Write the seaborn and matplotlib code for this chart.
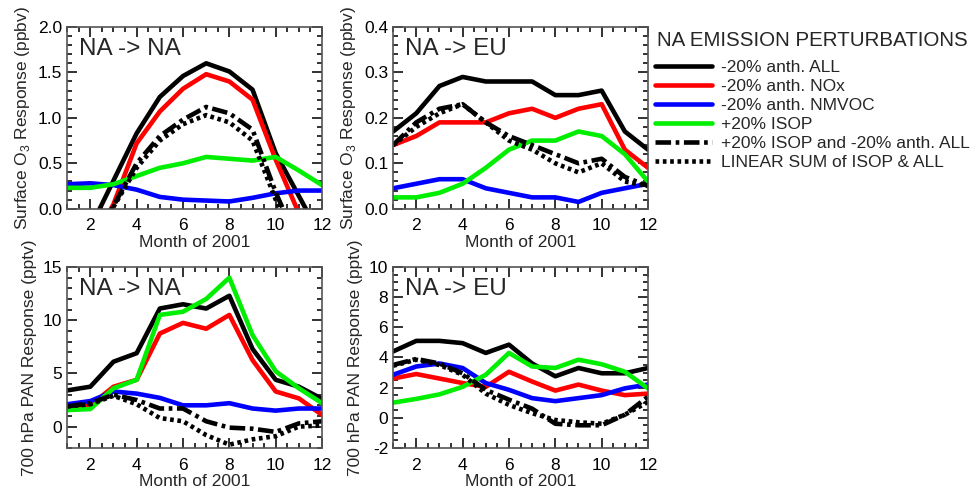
import numpy as np
import pandas as pd
import seaborn as sns
import matplotlib.pyplot as plt
from matplotlib.ticker import MultipleLocator

months = list(range(1, 13))

series_names = ['-20% anth. ALL', '-20% anth. NOx', '-20% anth. NMVOC',
                '+20% ISOP', '+20% ISOP and -20% anth. ALL',
                'LINEAR SUM of ISOP & ALL']

# surface O3, NA -> NA (ppbv)
o3_na_all = [-0.45, -0.21, 0.31, 0.83, 1.23, 1.46, 1.60, 1.51, 1.31, 0.61, 0.14, -0.33]
o3_na_nox = [-0.6, -0.4, 0.05, 0.72, 1.07, 1.32, 1.48, 1.40, 1.20, 0.54, -0.05, -0.5]
o3_na_voc = [0.27, 0.28, 0.26, 0.21, 0.13, 0.10, 0.09, 0.08, 0.12, 0.17, 0.20, 0.20]
o3_na_isop = [0.23, 0.23, 0.27, 0.36, 0.45, 0.50, 0.57, 0.55, 0.53, 0.57, 0.42, 0.26]
o3_na_both = [-0.7, -0.45, 0.03, 0.50, 0.80, 0.98, 1.12, 1.05, 0.87, 0.18, -0.4, -0.7]
o3_na_sum = [-0.7, -0.45, 0.02, 0.45, 0.75, 0.93, 1.03, 0.95, 0.75, 0.10, -0.5, -0.8]

# surface O3, NA -> EU (ppbv)
o3_eu_all = [0.17, 0.21, 0.27, 0.29, 0.28, 0.28, 0.28, 0.25, 0.25, 0.26, 0.17, 0.13]
o3_eu_nox = [0.14, 0.16, 0.19, 0.19, 0.19, 0.21, 0.22, 0.20, 0.22, 0.23, 0.13, 0.09]
o3_eu_voc = [0.045, 0.055, 0.065, 0.065, 0.045, 0.035, 0.025, 0.025, 0.015, 0.035, 0.045, 0.055]
o3_eu_isop = [0.025, 0.025, 0.035, 0.055, 0.09, 0.13, 0.15, 0.15, 0.17, 0.16, 0.12, 0.06]
o3_eu_both = [0.14, 0.19, 0.22, 0.23, 0.19, 0.16, 0.14, 0.12, 0.10, 0.11, 0.07, 0.05]
o3_eu_sum = [0.14, 0.18, 0.21, 0.23, 0.19, 0.15, 0.13, 0.10, 0.08, 0.10, 0.06, 0.05]

# 700 hPa PAN, NA -> NA (pptv)
pan_na_all = [3.4, 3.75, 6.1, 6.9, 11.1, 11.5, 11.1, 12.3, 7.3, 4.4, 3.75, 2.6]
pan_na_nox = [1.9, 2.0, 3.75, 4.4, 8.75, 9.75, 9.2, 10.5, 6.25, 3.3, 2.65, 1.1]
pan_na_voc = [2.1, 2.4, 3.3, 3.1, 2.7, 2.0, 2.0, 2.2, 1.7, 1.5, 1.7, 1.7]
pan_na_isop = [1.55, 1.65, 3.6, 4.4, 10.5, 10.8, 12.0, 14.0, 8.6, 5.2, 3.6, 2.2]
pan_na_both = [1.9, 2.2, 3.0, 2.5, 1.7, 1.7, 0.5, -0.1, -0.2, -0.5, 0.3, 0.5]
pan_na_sum = [1.9, 2.1, 2.9, 2.1, 0.8, 0.5, -0.8, -1.7, -1.2, -0.9, 0.0, 0.1]

# 700 hPa PAN, NA -> EU (pptv)
pan_eu_all = [4.4, 5.1, 5.1, 4.95, 4.3, 4.85, 3.6, 2.75, 3.3, 2.95, 2.95, 3.3]
pan_eu_nox = [2.6, 2.9, 2.6, 2.3, 2.05, 3.05, 2.4, 1.8, 2.2, 1.8, 1.5, 1.6]
pan_eu_voc = [2.85, 3.4, 3.6, 3.3, 2.3, 1.85, 1.3, 1.1, 1.3, 1.5, 1.95, 2.2]
pan_eu_isop = [1.0, 1.25, 1.55, 2.05, 2.85, 4.3, 3.4, 3.3, 3.85, 3.55, 3.05, 1.95]
pan_eu_both = [3.5, 3.9, 3.6, 2.95, 1.85, 1.2, 0.6, -0.4, -0.5, -0.5, 0.2, 1.4]
pan_eu_sum = [3.45, 3.85, 3.5, 2.85, 1.6, 0.85, 0.3, -0.15, -0.3, -0.4, 0.2, 1.05]

panels = [
    ('NA -> NA', 'Surface O$_3$ Response (ppbv)', (0, 2.0), 0.5, 0.1,
     [o3_na_all, o3_na_nox, o3_na_voc, o3_na_isop, o3_na_both, o3_na_sum], '%.1f'),
    ('NA -> EU', 'Surface O$_3$ Response (ppbv)', (0, 0.4), 0.1, 0.02,
     [o3_eu_all, o3_eu_nox, o3_eu_voc, o3_eu_isop, o3_eu_both, o3_eu_sum], '%.1f'),
    ('NA -> NA', '700 hPa PAN Response (pptv)', (-2, 15), 5, 1,
     [pan_na_all, pan_na_nox, pan_na_voc, pan_na_isop, pan_na_both, pan_na_sum], '%d'),
    ('NA -> EU', '700 hPa PAN Response (pptv)', (-2, 10), 2, 0.5,
     [pan_eu_all, pan_eu_nox, pan_eu_voc, pan_eu_isop, pan_eu_both, pan_eu_sum], '%d'),
]

palette = dict(zip(series_names, ['black', '#ff0000', '#0000ff', '#00ee00', 'black', 'black']))
dashes = dict(zip(series_names, ['', '', '', '', (3.4, 1.0, 0.8, 1.0), (0.8, 0.8)]))

sns.set_style('ticks')
plt.rcParams['font.family'] = ['Liberation Sans', 'DejaVu Sans']
plt.rcParams['mathtext.fontset'] = 'custom'
plt.rcParams['mathtext.rm'] = 'Liberation Sans'
plt.rcParams['xtick.direction'] = 'in'
plt.rcParams['ytick.direction'] = 'in'
plt.rcParams['xtick.top'] = True
plt.rcParams['ytick.right'] = True
plt.rcParams['xtick.minor.visible'] = True
plt.rcParams['ytick.minor.visible'] = True

fig = plt.figure(figsize=(9.73, 4.9), dpi=100)
boxes = [[0.069, 0.574, 0.262, 0.371], [0.404, 0.574, 0.262, 0.371],
         [0.069, 0.086, 0.262, 0.369], [0.404, 0.086, 0.262, 0.369]]

for box, (title, ylab, ylim, major, minor, vals, fmt) in zip(boxes, panels):
    ax = fig.add_axes(box)
    df = pd.DataFrame({
        'month': months * len(series_names),
        'value': np.concatenate(vals),
        'series': np.repeat(series_names, len(months)),
    })
    sns.lineplot(data=df, x='month', y='value', hue='series', style='series',
                 palette=palette, dashes=dashes, linewidth=3.3, legend=False, ax=ax)
    ax.set_xlim(1, 12)
    ax.set_ylim(*ylim)
    ax.xaxis.set_major_locator(MultipleLocator(2))
    ax.xaxis.set_minor_locator(MultipleLocator(0.5))
    ax.yaxis.set_major_locator(MultipleLocator(major))
    ax.yaxis.set_minor_locator(MultipleLocator(minor))
    ax.yaxis.set_major_formatter(plt.FormatStrFormatter(fmt))
    ax.tick_params(which='both', direction='in', top=True, right=True, color='#222222',
                   labelcolor='black', labelsize=12.5, width=1.3)
    ax.tick_params(which='major', length=7)
    ax.tick_params(which='minor', length=3.5)
    ax.tick_params(axis='x', which='major', pad=7)
    for s in ax.spines.values():
        s.set_color('#555555')
        s.set_linewidth(1.2)
    ax.set_xlabel('Month of 2001', fontsize=12.5, labelpad=1)
    ax.set_ylabel(ylab, fontsize=12.5, labelpad=4)
    ax.text(0.045, 0.94, title, transform=ax.transAxes, fontsize=17.5, va='top', ha='left')
    handles = ax.get_lines()[:len(series_names)]

fig.text(0.675, 0.918, 'NA EMISSION PERTURBATIONS', fontsize=14.8, ha='left', va='center')
leg = fig.legend(handles, series_names, loc='upper left', bbox_to_anchor=(0.673, 0.878),
                 frameon=False, fontsize=12.5, handlelength=3.3, handletextpad=0.5,
                 labelspacing=0.22, borderaxespad=0, borderpad=0)

fig.savefig('out.png', dpi=100)
